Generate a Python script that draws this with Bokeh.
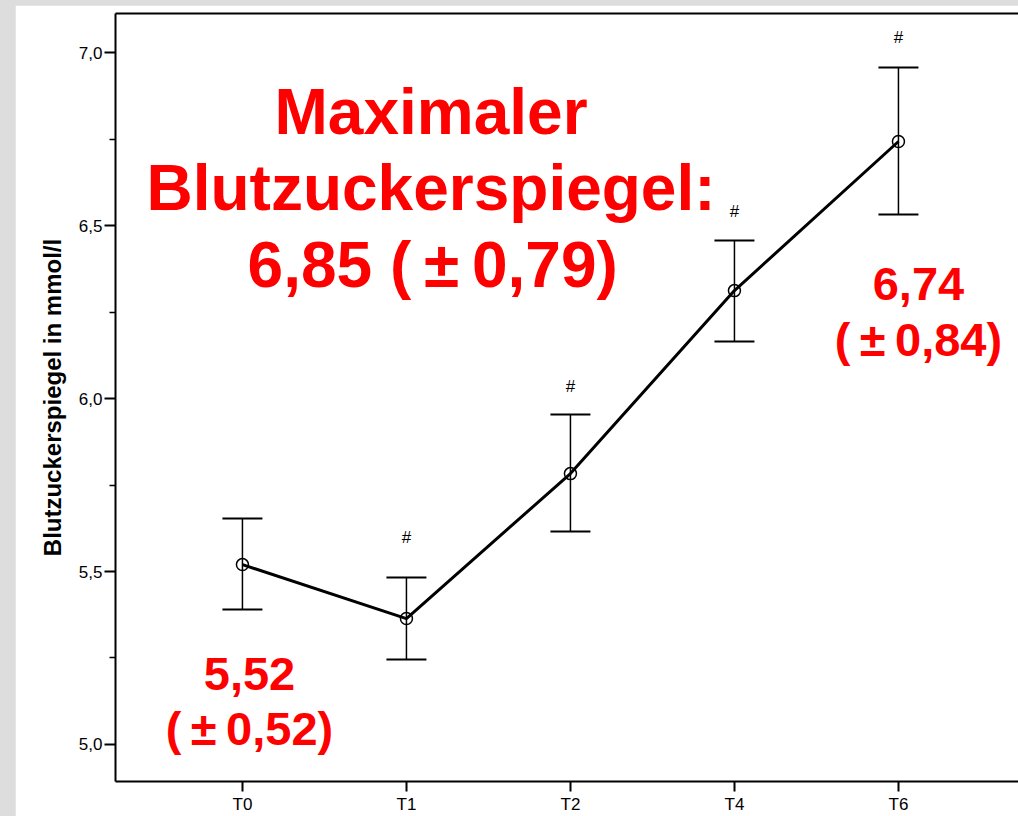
from bokeh.plotting import figure
from bokeh.models import (ColumnDataSource, Range1d, LinearAxis, FixedTicker,
                          CustomJSTickFormatter, Whisker, TeeHead)
from bokeh.layouts import column
from bokeh.core.properties import value
from bokeh.embed import file_html
from bokeh.resources import INLINE

# Blutzuckerspiegel (mmol/l) je Messzeitpunkt: Mittelwert und Fehlerbalken
timepoints = ["T0", "T1", "T2", "T4", "T6"]
mean_values = [5.52, 5.364, 5.783, 6.312, 6.743]
upper_values = [5.653, 5.483, 5.954, 6.457, 6.957]
lower_values = [5.390, 5.246, 5.616, 6.165, 6.532]
significant = [False, True, True, True, True]

FONT = "Liberation Sans"
RED = "#ff0000"

xs = list(range(len(timepoints)))
src = ColumnDataSource(dict(x=xs, mean=mean_values, upper=upper_values, lower=lower_values))

p = figure(width=1003, height=811, output_backend="svg", toolbar_location=None,
           x_range=Range1d(-0.774, 4.732), y_range=Range1d(4.893, 7.113),
           min_border_left=100, min_border_right=0, min_border_top=8, min_border_bottom=34,
           background_fill_color="white", border_fill_color="white",
           outline_line_color=None, margin=(5, 0, 0, 15))
p.grid.visible = False

# y axis
ya = p.yaxis[0]
ya.ticker = FixedTicker(ticks=[5.0, 5.5, 6.0, 6.5, 7.0], minor_ticks=[5.25, 5.75, 6.25, 6.75])
ya.formatter = CustomJSTickFormatter(code="return tick.toFixed(1).replace('.', ',')")
ya.axis_label = "Blutzuckerspiegel in mmol/l"
ya.axis_label_text_font = FONT
ya.axis_label_text_font_size = "24px"
ya.axis_label_text_font_style = "bold"
ya.axis_label_text_color = "black"
ya.axis_label_standoff = 10
ya.major_tick_out = 11
ya.major_tick_in = 0
ya.minor_tick_out = 6
ya.minor_tick_in = 0
ya.major_label_standoff = 2

# x axis
xa = p.xaxis[0]
xa.ticker = FixedTicker(ticks=xs, minor_ticks=[])
xa.major_label_overrides = {i: t for i, t in zip(xs, timepoints)}
xa.major_tick_out = 10
xa.major_tick_in = 0
xa.major_label_standoff = 3

for ax in (xa, ya):
    ax.axis_line_width = 2
    ax.axis_line_color = "black"
    ax.major_tick_line_width = 2
    ax.minor_tick_line_width = 1.5
    ax.major_tick_line_color = "black"
    ax.minor_tick_line_color = "black"
    ax.major_label_text_font = FONT
    ax.major_label_text_font_size = "17px"
    ax.major_label_text_color = "black"

# upper frame edge (axis line only, no ticks)
top = LinearAxis(ticker=FixedTicker(ticks=[], minor_ticks=[]),
                 major_tick_line_color=None, minor_tick_line_color=None,
                 axis_line_width=2, axis_line_color="black", major_label_standoff=0)
p.add_layout(top, "above")

# error bars
head = dict(size=40, line_width=2, line_color="black")
p.add_layout(Whisker(base="x", upper="upper", lower="lower", source=src,
                     line_width=1.5, line_color="black",
                     upper_head=TeeHead(**head), lower_head=TeeHead(**head)))

# mean curve
p.line("x", "mean", source=src, line_width=3, line_color="black")
p.scatter("x", "mean", source=src, marker="circle", size=12, fill_color=None,
          line_color="black", line_width=1.5)

# significance markers above the error bars
hash_lift = [0, 40, 28, 29, 30]
for i, flag in enumerate(significant):
    if flag:
        p.text(x=[xs[i]], y=[upper_values[i]], text=["#"], y_offset=-hash_lift[i],
               text_font=value(FONT), text_font_size="17px", text_color="black",
               text_align="center", text_baseline="middle")

def red_text(x, y, s, size):
    p.text(x=[x], y=[y], text=[s], text_font=value(FONT), text_font_size=size,
           text_font_style="bold", text_color=RED, text_align="center",
           text_baseline="alphabetic")

TS = "\u2009"
peak_mean, peak_sd = "6,85", "0,79"
red_text(1.15, 6.827, "Maximaler", "64px")
red_text(1.15, 6.610, "Blutzuckerspiegel:", "64px")
red_text(1.16, 6.385, f"{peak_mean} ({TS}±{TS}{peak_sd})", "64px")

red_text(0.043, 5.205, "5,52", "47px")
red_text(0.043, 5.046, f"({TS}±{TS}0,52)", "47px")
red_text(4.122, 6.332, "6,74", "47px")
red_text(4.122, 6.170, f"({TS}±{TS}0,84)", "47px")

layout = column(p, width=1018, height=816,
                styles={"background-color": "#dddddd"})

with open("out.html", "w") as f:
    f.write(file_html(layout, INLINE))
